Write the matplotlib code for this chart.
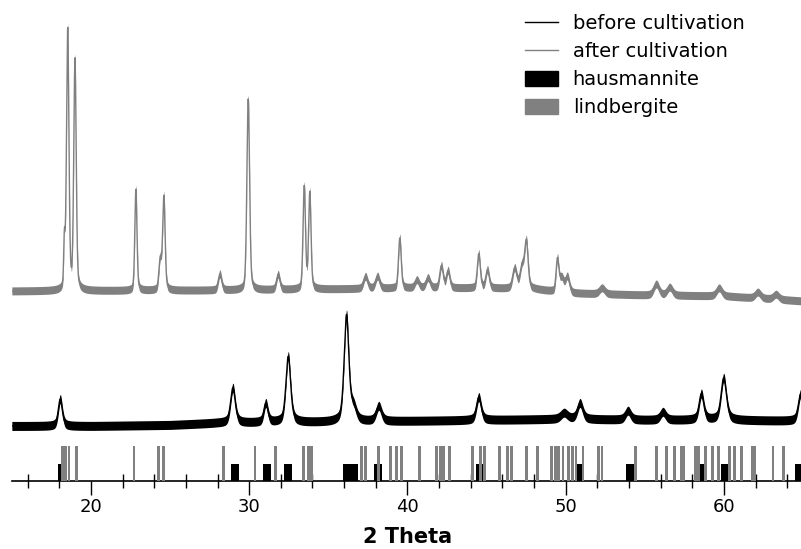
import numpy as np
import matplotlib.pyplot as plt
from matplotlib.lines import Line2D
from matplotlib.patches import Patch
from matplotlib.ticker import MultipleLocator

# peak list of the sample after cultivation (2theta, height above background, fwhm)
after_pos = [18.32, 18.53, 18.99, 22.84, 24.38, 24.61, 28.15, 29.94, 31.83, 33.48,
             33.83, 37.35, 38.11, 39.52, 40.6, 41.3, 42.15, 42.57, 44.51, 45.06,
             46.78, 47.25, 47.52, 49.48, 49.75, 50.11, 52.3, 55.73, 56.58, 59.7,
             62.15, 63.3]
after_height = [45, 260, 230, 101, 30, 93, 16, 191, 15, 102,
                96, 12, 12, 50, 8, 10, 22, 17, 34, 18,
                20, 22, 46, 32, 14, 16, 6, 11, 8, 8,
                6, 5]
after_fwhm = [0.1, 0.18, 0.18, 0.16, 0.2, 0.18, 0.25, 0.2, 0.25, 0.18,
              0.18, 0.3, 0.3, 0.2, 0.3, 0.3, 0.25, 0.25, 0.22, 0.25,
              0.3, 0.3, 0.25, 0.2, 0.3, 0.3, 0.4, 0.4, 0.4, 0.4,
              0.4, 0.4]
after_bg_x = [15, 30, 40, 45, 48, 50, 55, 60, 65]
after_bg_y = [190, 191, 193, 193, 192, 188, 186, 185, 180]

# peak list of the sample before cultivation
before_pos = [18.06, 28.97, 31.05, 32.47, 36.15, 36.6, 38.19, 44.51, 49.9, 50.91,
              53.94, 56.15, 58.58, 59.99, 64.85]
before_height = [27, 35, 19, 66, 106, 12, 15, 23, 6, 16,
                 9, 8, 26, 42, 27]
before_fwhm = [0.3, 0.35, 0.3, 0.35, 0.35, 0.4, 0.4, 0.35, 0.5, 0.4,
               0.4, 0.4, 0.35, 0.4, 0.35]
before_bg_x = [15, 20, 25, 28, 35, 40, 45, 50, 55, 60, 65]
before_bg_y = [55, 55, 56, 58, 59, 60, 61, 62, 61, 61, 60]

# reference reflections
hausmannite = [18.15, 29.08, 31.1, 32.48, 36.19, 36.6, 38.15, 44.58, 50.93, 54.05,
               58.65, 60.05, 64.75]
lindbergite = [18.19, 18.40, 18.61, 19.10, 22.72, 24.27, 24.58, 28.39, 30.37, 31.67,
               33.43, 33.75, 33.92, 37.08, 37.37, 38.19, 38.91, 39.33, 39.6, 40.78,
               41.83, 42.08, 42.28, 42.68, 44.10, 44.62, 44.85, 45.80, 46.35, 46.6,
               47.51, 48.22, 49.1, 49.35, 49.55, 49.83, 50.2, 50.45, 50.65, 51.1,
               52.05, 52.3, 54.4, 55.73, 56.35, 56.9, 57.3, 57.45, 58.2, 58.4,
               58.83, 59.27, 59.65, 60.37, 60.68, 61.1, 61.8, 61.95, 63.1, 63.78]

GRAY = '#808080'


def pseudo_voigt(x, pos, height, fwhm, eta):
    g = np.exp(-4 * np.log(2) * ((x - pos) / fwhm) ** 2)
    l = 1 / (1 + 4 * ((x - pos) / fwhm) ** 2)
    return height * (eta * l + (1 - eta) * g)


def pattern(x, bg_x, bg_y, pos, height, fwhm, eta):
    y = np.interp(x, bg_x, bg_y)
    for p, h, w in zip(pos, height, fwhm):
        y = y + pseudo_voigt(x, p, h, w, eta)
    return y


tt = np.arange(15, 65.001, 0.01)
after = pattern(tt, after_bg_x, after_bg_y, after_pos, after_height, after_fwhm, 0.3)
before = pattern(tt, before_bg_x, before_bg_y, before_pos, before_height, before_fwhm, 0.5)

fig = plt.figure(figsize=(8.01, 5.49), dpi=100)
ax = fig.add_axes([11.85 / 801, 68 / 549, 791.15 / 801, 481 / 549])

# noisy scans drawn as a band around the profile
ax.fill_between(tt, after - 4, after + 4, color=GRAY, lw=0)
ax.plot(tt, after, color=GRAY, lw=1)
ax.fill_between(tt, before - 4.5, before + 4.5, color='black', lw=0)
ax.plot(tt, before, color='black', lw=1)

# reference sticks along the axis
ax.bar(hausmannite, 17, width=0.5, color='black', zorder=3)
ax.bar(lindbergite, 35, width=0.18, color=GRAY, zorder=4)

ax.set_xlim(15, 65)
ax.set_ylim(0, 481)
for side in ['left', 'right', 'top']:
    ax.spines[side].set_visible(False)
ax.spines['bottom'].set_linewidth(1.2)
ax.set_yticks([])
ax.xaxis.set_major_locator(MultipleLocator(10))
ax.xaxis.set_minor_locator(MultipleLocator(2))
ax.tick_params(axis='x', which='major', direction='out', length=10, width=1, labelsize=13, pad=2)
ax.tick_params(axis='x', which='minor', direction='inout', length=9.5, width=1)
ax.set_xlabel('2 Theta', fontsize=15, fontweight='bold', labelpad=8)

handles = [Line2D([], [], color='black', lw=1),
           Line2D([], [], color=GRAY, lw=1),
           Patch(color='black'),
           Patch(color=GRAY)]
labels = ['before cultivation', 'after cultivation', 'hausmannite', 'lindbergite']
ax.legend(handles, labels, loc='upper left', bbox_to_anchor=(525 / 801, 1 - 14 / 549),
          bbox_transform=fig.transFigure, frameon=False, borderpad=0, borderaxespad=0,
          handlelength=1.7, handletextpad=0.75, labelspacing=0.47, handleheight=0.85,
          fontsize=14)

fig.savefig('out.png', dpi=100)
